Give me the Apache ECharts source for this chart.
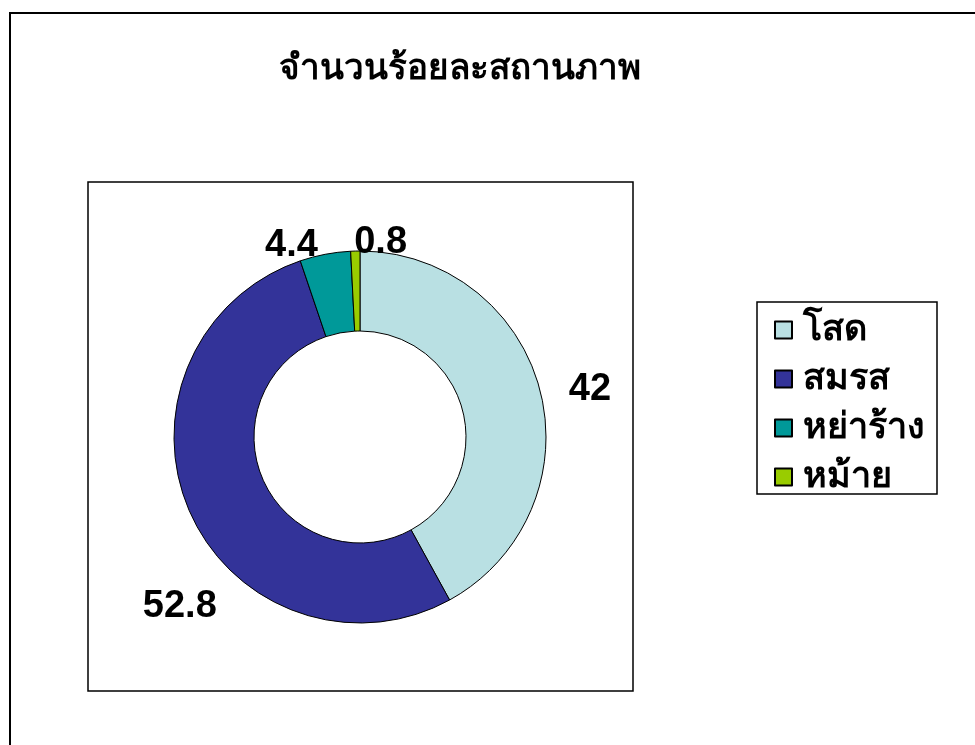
<!DOCTYPE html>
<html>
<head>
<meta charset="utf-8">
<script src="https://cdn.jsdelivr.net/npm/echarts@6/dist/echarts.min.js"></script>
<style>
  html, body { margin: 0; padding: 0; background: #fff; }
</style>
</head>
<body>
<div id="chart" style="width: 975px; height: 745px"></div>
<script>
var categories = ['โสด', 'สมรส', 'หย่าร้าง', 'หม้าย'];
var values = [42, 52.8, 4.4, 0.8];
var colors = ['#B9E0E3', '#333399', '#009999', '#99CC00'];

// shift of each value label from the default outside spot, like the Excel chart
var labelShift = [[8, 2], [47, 90], [4, 3], [61, 3]];

var font = 'Arial, "Liberation Sans", sans-serif';

var chart = echarts.init(document.getElementById('chart'));

var pieData = [];
for (var i = 0; i < categories.length; i++) {
  pieData.push({
    name: categories[i],
    value: values[i],
    itemStyle: { color: colors[i] },
  });
}

chart.setOption({
  backgroundColor: '#fff',
  animation: false,
  title: {
    text: 'จำนวนร้อยละสถานภาพ',
    left: 455,
    top: 47,
    textAlign: 'center',
    textStyle: {
      fontFamily: font,
      fontSize: 35,
      fontWeight: 'bold',
      color: '#000',
    },
  },
  graphic: [
    {
      type: 'rect',
      shape: { x: 10, y: 13, width: 1100, height: 900 },
      style: { fill: 'none', stroke: '#000', lineWidth: 2 },
      z: -10,
    },
    {
      type: 'rect',
      shape: { x: 88, y: 182, width: 545, height: 509 },
      style: { fill: 'none', stroke: '#000', lineWidth: 1.5 },
      z: -10,
    },
    {
      type: 'rect',
      shape: { x: 757, y: 302, width: 180, height: 192 },
      style: { fill: 'none', stroke: '#000', lineWidth: 1.5 },
      z: -10,
    },
  ],
  legend: {
    orient: 'vertical',
    left: 774,
    top: 312,
    padding: 0,
    icon: 'rect',
    itemWidth: 17,
    itemHeight: 17,
    itemGap: 13,
    data: categories,
    textStyle: {
      fontFamily: font,
      fontSize: 36,
      fontWeight: 'bold',
      color: '#000',
      lineHeight: 30,
      padding: [0, 0, 0, 6],
    },
  },
  series: [
    {
      name: 'สถานภาพ',
      type: 'pie',
      center: [360, 437],
      radius: [106, 186],
      startAngle: 90,
      clockwise: true,
      avoidLabelOverlap: false,
      itemStyle: { borderColor: '#000', borderWidth: 1 },
      label: {
        show: true,
        position: 'outside',
        formatter: '{c}',
        fontFamily: font,
        fontSize: 38,
        fontWeight: 'bold',
        color: '#000',
      },
      labelLine: { show: false, length: 12, length2: 4 },
      labelLayout: function (params) {
        var s = labelShift[params.dataIndex];
        return { dx: s[0], dy: s[1], hideOverlap: false };
      },
      emphasis: { disabled: true },
      data: pieData,
    },
  ],
});
</script>
</body>
</html>
